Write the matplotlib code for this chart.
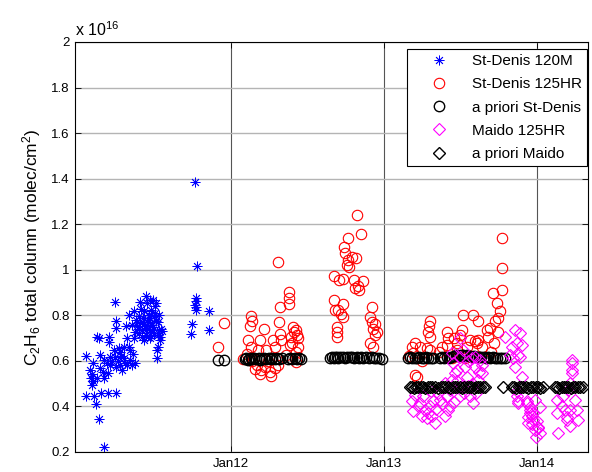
import numpy as np
import pandas as pd
import matplotlib
matplotlib.use('Agg')
import matplotlib.pyplot as plt
import matplotlib.dates as mdates

plt.rcParams['font.family'] = ['Liberation Sans', 'DejaVu Sans']
plt.rcParams['mathtext.default'] = 'regular'

# --- data: (decimal year, total column / 1e16 molec/cm2) ---
sd_120m = [
    (2011.054, 0.622), (2011.052, 0.447), (2011.102, 0.447), (2011.080, 0.561), (2011.091, 0.543),
    (2011.085, 0.524), (2011.095, 0.510), (2011.091, 0.495), (2011.117, 0.411), (2011.135, 0.344),
    (2011.167, 0.224), (2011.124, 0.704), (2011.139, 0.700), (2011.150, 0.458), (2011.193, 0.461),
    (2011.248, 0.458), (2011.141, 0.627), (2011.167, 0.605), (2011.189, 0.590), (2011.204, 0.704),
    (2011.204, 0.685), (2011.146, 0.568), (2011.167, 0.524), (2011.193, 0.546), (2011.211, 0.619),
    (2011.233, 0.649), (2011.248, 0.773), (2011.248, 0.744), (2011.244, 0.858), (2011.250, 0.575),
    (2011.265, 0.656), (2011.276, 0.641), (2011.287, 0.561), (2011.298, 0.612), (2011.315, 0.751),
    (2011.309, 0.590), (2011.320, 0.700), (2011.331, 0.663), (2011.342, 0.605), (2011.352, 0.583),
    (2011.363, 0.817), (2011.368, 0.700), (2011.374, 0.590), (2011.381, 0.780), (2011.385, 0.751),
    (2011.396, 0.795), (2011.396, 0.722), (2011.403, 0.858), (2011.407, 0.766), (2011.418, 0.736),
    (2011.424, 0.788), (2011.429, 0.817), (2011.440, 0.751), (2011.444, 0.883), (2011.446, 0.715),
    (2011.451, 0.854), (2011.455, 0.780), (2011.461, 0.802), (2011.468, 0.736), (2011.472, 0.700),
    (2011.477, 0.824), (2011.483, 0.758), (2011.490, 0.868), (2011.494, 0.795), (2011.498, 0.722),
    (2011.505, 0.839), (2011.507, 0.773), (2011.511, 0.854), (2011.516, 0.649), (2011.520, 0.715),
    (2011.527, 0.736), (2011.533, 0.693), (2011.516, 0.612), (2011.538, 0.704), (2011.352, 0.758),
    (2011.374, 0.729), (2011.342, 0.649), (2011.320, 0.583), (2011.276, 0.583), (2011.244, 0.619),
    (2011.211, 0.583), (2011.124, 0.524), (2011.331, 0.802), (2011.418, 0.707), (2011.472, 0.868),
    (2011.429, 0.693), (2011.410, 0.830), (2011.430, 0.760), (2011.450, 0.740), (2011.470, 0.790),
    (2011.490, 0.750), (2011.500, 0.810), (2011.520, 0.770), (2011.530, 0.800), (2011.540, 0.740),
    (2011.400, 0.740), (2011.460, 0.770), (2011.480, 0.710), (2011.550, 0.730), (2011.520, 0.660),
    (2011.300, 0.660), (2011.280, 0.620), (2011.260, 0.600), (2011.360, 0.630), (2011.220, 0.600),
    (2011.100, 0.590), (2011.160, 0.550),
    (2011.765, 1.384), (2011.776, 1.018), (2011.768, 0.876), (2011.772, 0.861), (2011.765, 0.847),
    (2011.772, 0.836), (2011.768, 0.825), (2011.743, 0.763), (2011.737, 0.720), (2011.858, 0.818),
    (2011.858, 0.734),
]

sd_125hr = [
    (2011.917, 0.661), (2011.954, 0.765),
    (2012.307, 1.032), (2012.379, 0.901), (2012.379, 0.875), (2012.379, 0.850), (2012.322, 0.838),
    (2012.314, 0.769), (2012.133, 0.797), (2012.137, 0.776), (2012.122, 0.753), (2012.216, 0.741),
    (2012.318, 0.718), (2012.405, 0.747), (2012.427, 0.735), (2012.394, 0.706), (2012.438, 0.699),
    (2012.111, 0.691), (2012.187, 0.691), (2012.275, 0.691), (2012.129, 0.659), (2012.176, 0.650),
    (2012.227, 0.650), (2012.285, 0.662), (2012.329, 0.691), (2012.383, 0.669), (2012.427, 0.640),
    (2012.107, 0.632), (2012.155, 0.566), (2012.198, 0.559), (2012.220, 0.574), (2012.253, 0.552),
    (2012.264, 0.532), (2012.187, 0.541), (2012.307, 0.581), (2012.427, 0.596), (2012.362, 0.625),
    (2012.078, 0.610), (2012.410, 0.725), (2012.430, 0.715), (2012.400, 0.680), (2012.440, 0.660),
    (2012.170, 0.580), (2012.240, 0.600), (2012.290, 0.570), (2012.140, 0.600),
    (2012.821, 1.240), (2012.848, 1.156), (2012.762, 1.138), (2012.741, 1.101), (2012.745, 1.075),
    (2012.789, 1.054), (2012.767, 1.043), (2012.815, 1.050), (2012.756, 1.021), (2012.774, 1.013),
    (2012.673, 0.972), (2012.708, 0.957), (2012.734, 0.960), (2012.804, 0.957), (2012.860, 0.951),
    (2012.832, 0.928), (2012.810, 0.922), (2012.839, 0.910), (2012.673, 0.869), (2012.702, 0.825),
    (2012.734, 0.849), (2012.717, 0.807), (2012.680, 0.822), (2012.734, 0.793), (2012.919, 0.837),
    (2012.908, 0.793), (2012.919, 0.771), (2012.941, 0.763), (2012.930, 0.741), (2012.952, 0.726),
    (2012.941, 0.712), (2012.691, 0.749), (2012.691, 0.726), (2012.695, 0.704), (2012.908, 0.678),
    (2012.926, 0.660),
    (2013.769, 1.138), (2013.769, 1.007), (2013.714, 0.898), (2013.769, 0.912), (2013.736, 0.854),
    (2013.758, 0.817), (2013.747, 0.788), (2013.725, 0.773), (2013.693, 0.744), (2013.747, 0.729),
    (2013.682, 0.707), (2013.617, 0.693), (2013.595, 0.686), (2013.606, 0.678), (2013.519, 0.802),
    (2013.580, 0.802), (2013.617, 0.773), (2013.508, 0.736), (2013.497, 0.715), (2013.410, 0.729),
    (2013.421, 0.700), (2013.410, 0.671), (2013.301, 0.773), (2013.296, 0.751), (2013.290, 0.729),
    (2013.301, 0.707), (2013.279, 0.656), (2013.203, 0.678), (2013.235, 0.663), (2013.192, 0.634),
    (2013.203, 0.539), (2013.214, 0.531), (2013.301, 0.649), (2013.475, 0.649), (2013.540, 0.663),
    (2013.562, 0.693), (2013.671, 0.736), (2013.475, 0.678), (2013.442, 0.612), (2013.529, 0.612),
    (2013.160, 0.620), (2013.180, 0.660), (2013.250, 0.600), (2013.360, 0.640), (2013.380, 0.660),
    (2013.460, 0.700), (2013.640, 0.660), (2013.700, 0.640), (2013.720, 0.680),
]

apriori_sd = [
    (2011.915, 0.605), (2011.955, 0.605),
    (2012.089, 0.608), (2012.100, 0.612), (2012.110, 0.606), (2012.120, 0.610), (2012.130, 0.614),
    (2012.140, 0.607), (2012.150, 0.611), (2012.165, 0.609), (2012.180, 0.613), (2012.190, 0.606),
    (2012.200, 0.610), (2012.215, 0.612), (2012.230, 0.608), (2012.245, 0.611), (2012.260, 0.607),
    (2012.270, 0.613), (2012.285, 0.609), (2012.300, 0.611), (2012.315, 0.608), (2012.330, 0.612),
    (2012.375, 0.610), (2012.385, 0.614), (2012.400, 0.609), (2012.415, 0.612), (2012.430, 0.608),
    (2012.445, 0.611), (2012.458, 0.610),
    (2012.647, 0.614), (2012.660, 0.617), (2012.670, 0.612), (2012.680, 0.616), (2012.690, 0.618),
    (2012.700, 0.613), (2012.715, 0.616), (2012.730, 0.619), (2012.745, 0.614), (2012.760, 0.617),
    (2012.775, 0.615), (2012.790, 0.618), (2012.805, 0.613), (2012.820, 0.616), (2012.835, 0.614),
    (2012.850, 0.617), (2012.865, 0.612), (2012.880, 0.615), (2012.900, 0.613), (2012.920, 0.616),
    (2012.935, 0.611), (2012.950, 0.614), (2012.965, 0.612), (2012.985, 0.610),
    (2013.157, 0.612), (2013.170, 0.615), (2013.185, 0.611), (2013.200, 0.614), (2013.215, 0.612),
    (2013.230, 0.616), (2013.245, 0.611), (2013.260, 0.613), (2013.275, 0.615), (2013.290, 0.612),
    (2013.305, 0.614), (2013.320, 0.611),
    (2013.366, 0.612), (2013.380, 0.615), (2013.395, 0.613), (2013.410, 0.616), (2013.425, 0.614),
    (2013.440, 0.618), (2013.455, 0.622), (2013.470, 0.625), (2013.485, 0.623), (2013.500, 0.627),
    (2013.515, 0.624), (2013.530, 0.621), (2013.545, 0.625), (2013.560, 0.622), (2013.575, 0.619),
    (2013.590, 0.621), (2013.605, 0.617), (2013.620, 0.619), (2013.635, 0.615), (2013.650, 0.617),
    (2013.665, 0.614), (2013.680, 0.616), (2013.695, 0.613), (2013.710, 0.615), (2013.725, 0.612),
    (2013.740, 0.614), (2013.755, 0.611), (2013.770, 0.613), (2013.790, 0.612),
]

maido_125hr = [
    (2013.192, 0.378), (2013.181, 0.422), (2013.235, 0.414), (2013.257, 0.444), (2013.268, 0.385),
    (2013.290, 0.370), (2013.301, 0.400), (2013.312, 0.356), (2013.333, 0.327), (2013.279, 0.348),
    (2013.322, 0.422), (2013.355, 0.458), (2013.366, 0.429), (2013.420, 0.385), (2013.410, 0.444),
    (2013.431, 0.473), (2013.399, 0.502), (2013.442, 0.517), (2013.464, 0.546), (2013.453, 0.590),
    (2013.442, 0.634), (2013.497, 0.619), (2013.497, 0.700), (2013.519, 0.649), (2013.529, 0.575),
    (2013.540, 0.531), (2013.551, 0.488), (2013.562, 0.444), (2013.584, 0.414), (2013.595, 0.575),
    (2013.595, 0.619), (2013.627, 0.605), (2013.638, 0.546), (2013.617, 0.517), (2013.497, 0.444),
    (2013.508, 0.488), (2013.573, 0.612), (2013.475, 0.510), (2013.200, 0.450), (2013.220, 0.400),
    (2013.250, 0.360), (2013.310, 0.470), (2013.340, 0.390), (2013.380, 0.410), (2013.400, 0.360),
    (2013.430, 0.400), (2013.460, 0.420), (2013.480, 0.560), (2013.520, 0.460), (2013.550, 0.600),
    (2013.580, 0.500), (2013.600, 0.460), (2013.620, 0.550), (2013.640, 0.580),
    (2013.791, 0.707), (2013.856, 0.736), (2013.867, 0.678), (2013.834, 0.663), (2013.845, 0.612),
    (2013.889, 0.619), (2013.856, 0.575), (2013.900, 0.531), (2013.867, 0.444), (2013.878, 0.414),
    (2013.932, 0.422), (2013.954, 0.385), (2013.965, 0.356), (2013.943, 0.327), (2013.998, 0.334),
    (2014.009, 0.305), (2014.020, 0.283), (2013.976, 0.370), (2013.889, 0.722), (2013.900, 0.671),
    (2013.878, 0.627), (2013.824, 0.627), (2013.867, 0.470), (2013.878, 0.426), (2013.943, 0.352),
    (2013.965, 0.323), (2013.987, 0.296), (2013.993, 0.265), (2013.954, 0.396), (2013.933, 0.414),
    (2013.954, 0.370), (2013.976, 0.341), (2014.009, 0.311), (2014.020, 0.399), (2013.987, 0.428),
    (2014.139, 0.283), (2014.128, 0.370), (2014.161, 0.400), (2014.183, 0.385), (2014.194, 0.341),
    (2014.216, 0.312), (2014.227, 0.590), (2014.227, 0.546), (2014.216, 0.502), (2014.248, 0.429),
    (2014.259, 0.385), (2014.270, 0.341), (2014.172, 0.444), (2014.205, 0.473), (2014.129, 0.428),
    (2014.194, 0.355), (2014.216, 0.384), (2014.227, 0.606), (2014.227, 0.560),
]

apriori_maido = [
    (2013.170, 0.484), (2013.180, 0.486), (2013.195, 0.483), (2013.210, 0.485), (2013.225, 0.487),
    (2013.240, 0.484), (2013.255, 0.486), (2013.270, 0.483), (2013.285, 0.485), (2013.300, 0.487),
    (2013.315, 0.484), (2013.330, 0.486), (2013.350, 0.483), (2013.370, 0.485), (2013.385, 0.487),
    (2013.400, 0.484), (2013.415, 0.486), (2013.430, 0.483), (2013.450, 0.485), (2013.465, 0.487),
    (2013.480, 0.484), (2013.495, 0.486), (2013.510, 0.483), (2013.525, 0.485), (2013.540, 0.487),
    (2013.555, 0.484), (2013.570, 0.486), (2013.585, 0.483), (2013.600, 0.485), (2013.615, 0.487),
    (2013.630, 0.484), (2013.645, 0.486), (2013.660, 0.484),
    (2013.778, 0.485),
    (2013.837, 0.484), (2013.850, 0.486), (2013.865, 0.483), (2013.880, 0.485), (2013.895, 0.487),
    (2013.910, 0.484), (2013.925, 0.486), (2013.940, 0.483), (2013.960, 0.485), (2013.975, 0.487),
    (2013.990, 0.484), (2014.005, 0.486), (2014.020, 0.483), (2014.040, 0.485),
    (2014.118, 0.484), (2014.130, 0.486), (2014.145, 0.483), (2014.160, 0.485), (2014.175, 0.487),
    (2014.190, 0.484), (2014.205, 0.486), (2014.220, 0.483), (2014.235, 0.485), (2014.250, 0.487),
    (2014.265, 0.484), (2014.280, 0.486), (2014.300, 0.484),
]

yticks = [0.2, 0.4, 0.6, 0.8, 1.0, 1.2, 1.4, 1.6, 1.8, 2.0]
xtick_dates = ['2012-01-01', '2013-01-01', '2014-01-01']


def to_dates(years):
    years = np.asarray(years, dtype=float)
    return pd.Timestamp('2011-01-01') + pd.to_timedelta((years - 2011) * 365.25, unit='D')


def split(pts):
    t, v = zip(*pts)
    return to_dates(t), np.array(v)


fig = plt.figure(figsize=(5.92, 4.72), dpi=100)
ax = fig.add_axes([75 / 592, 20 / 472, 513 / 592, 410 / 472])

t, v = split(sd_120m)
ax.plot(t, v, ls='none', marker=(8, 2, 0), ms=7, mew=0.6, color='#0000ff', label='St-Denis 120M')
t, v = split(sd_125hr)
ax.plot(t, v, ls='none', marker='o', ms=7.5, mew=0.8, mfc='none', mec='#ff0000', label='St-Denis 125HR')
t, v = split(apriori_sd)
ax.plot(t, v, ls='none', marker='o', ms=7.5, mew=1.0, mfc='none', mec='black', label='a priori St-Denis')
t, v = split(maido_125hr)
ax.plot(t, v, ls='none', marker='D', ms=6, mew=0.8, mfc='none', mec='#ff00ff', label='Maido 125HR')
t, v = split(apriori_maido)
ax.plot(t, v, ls='none', marker='D', ms=6, mew=1.0, mfc='none', mec='black', label='a priori Maido')

# axes, ticks, grid (matlab look)
ax.set_xlim(to_dates([2010.98, 2014.333]))
ax.set_ylim(0.2, 2.0)
ax.set_yticks(yticks)
ax.set_yticklabels(['%g' % y for y in yticks])
ax.set_xticks(pd.to_datetime(xtick_dates))
ax.xaxis.set_major_formatter(mdates.DateFormatter('%b%y'))
ax.tick_params(direction='in', top=True, right=True, length=4, width=0.6, labelsize=9.5, pad=4)
ax.yaxis.grid(True, color='#b4b4b4', lw=1.0)
ax.xaxis.grid(True, color='#555555', lw=0.8)
ax.set_axisbelow(True)
for s in ax.spines.values():
    s.set_linewidth(0.8)

ax.set_ylabel(r'C$_2$H$_6$ total column (molec/cm$^2$)', fontsize=12.5, labelpad=6)
ax.text(0.0, 1.008, r'x 10$^{16}$', transform=ax.transAxes, ha='left', va='bottom', fontsize=11.5)

leg = ax.legend(loc='upper right', bbox_to_anchor=(0.998, 0.983), borderaxespad=0, fontsize=11,
                fancybox=False, edgecolor='black', framealpha=1, labelspacing=0.6,
                handlelength=3.4, handletextpad=0.45, borderpad=0.35, numpoints=1)
leg.get_frame().set_linewidth(0.8)

fig.savefig('out.png', dpi=100)
